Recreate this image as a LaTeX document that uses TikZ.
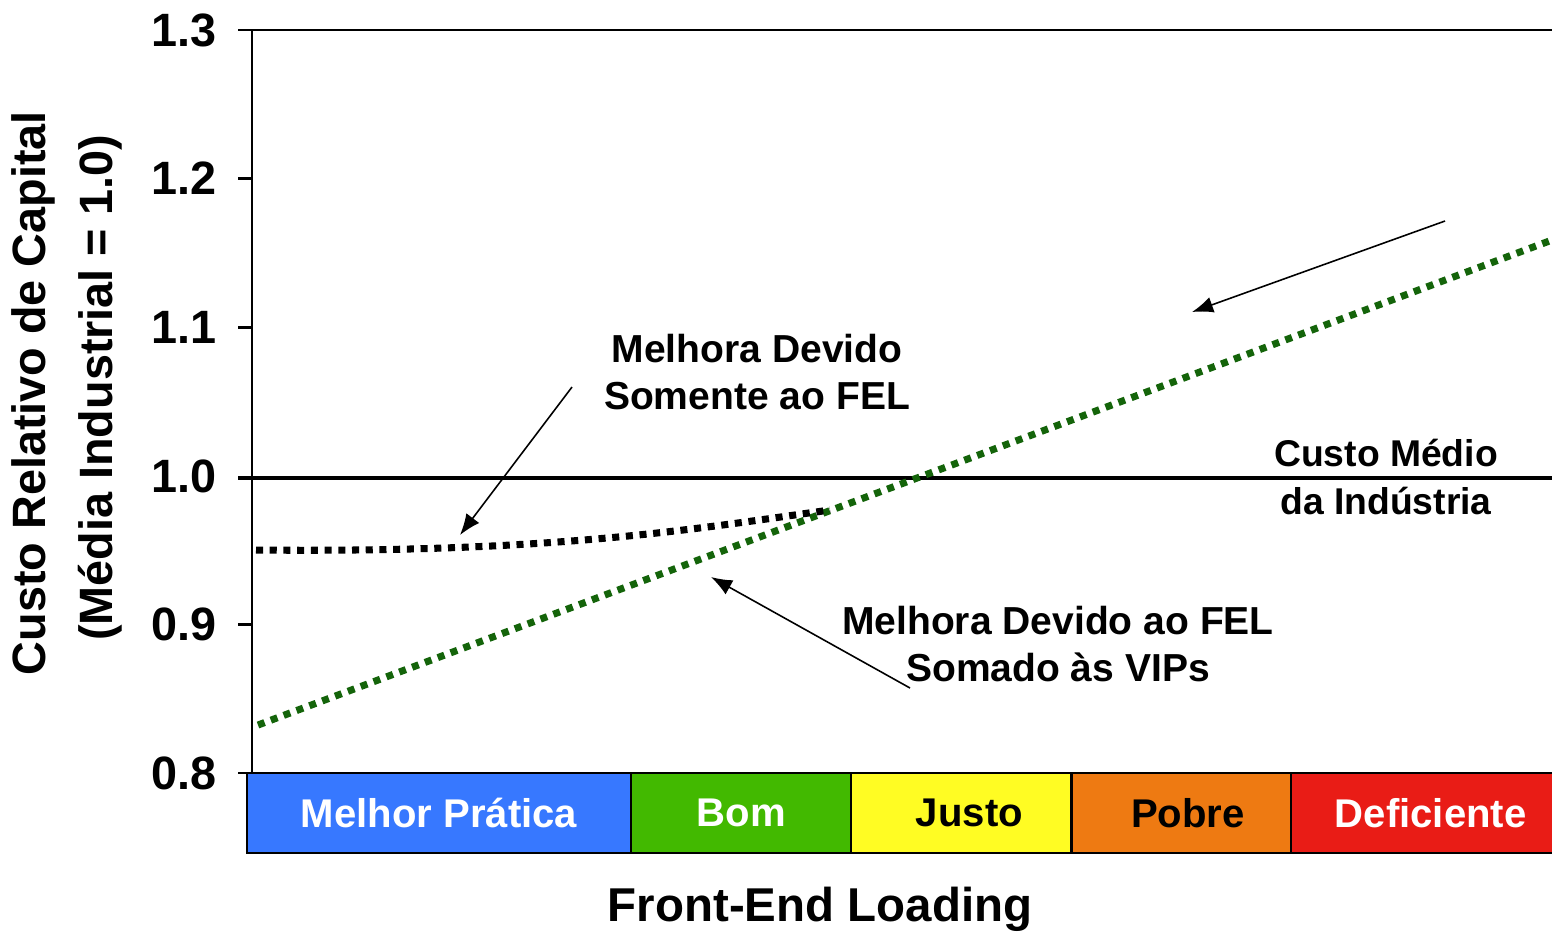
\documentclass[tikz,border=0pt]{standalone}
\usepackage{fontspec}
\setmainfont{Liberation Sans}
\usepackage{tikz}
\usetikzlibrary{positioning}
\usetikzlibrary{arrows.meta}
\definecolor{barblue}{RGB}{55,120,255}
\definecolor{bargreen}{RGB}{66,185,0}
\definecolor{baryellow}{RGB}{255,252,35}
\definecolor{barorange}{RGB}{238,122,18}
\definecolor{barred}{RGB}{233,28,22}
\definecolor{feldots}{RGB}{20,100,10}
\tikzstyle{ticklbl} = [anchor=east, inner sep=0pt, font=\fontsize{13.3}{15}\selectfont\bfseries]
\tikzstyle{axlbl} = [rotate=90, inner sep=0pt, font=\fontsize{13.3}{15}\selectfont\bfseries]
\tikzstyle{note} = [align=center, inner sep=0pt, font=\fontsize{11.1}{13.4}\selectfont\bfseries]
\tikzstyle{band} = [rectangle, draw=black, line width=0.6pt, minimum height=0.8cm, inner sep=0pt, outer sep=0pt, font=\fontsize{11.4}{13}\selectfont\bfseries]
\tikzstyle{arrow} = [-{Latex[length=6pt,width=4.6pt]}, line width=0.45pt]
\tikzstyle{dots} = [line width=2pt, dash pattern=on 2pt off 1.9pt]

\begin{document}
\begin{tikzpicture}[x=0.01cm, y=-0.01cm]
\useasboundingbox (0,0) rectangle (1552,932);

% Axes
\draw [line width=0.8pt] (238,30) -- (1560,30);
\draw [line width=0.8pt] (252,30) -- (252,773);
\draw [line width=0.8pt] (238,178.6) -- (252,178.6);
\draw [line width=0.8pt] (238,327.2) -- (252,327.2);
\draw [line width=0.8pt] (238,624.4) -- (252,624.4);
\draw [line width=0.8pt] (238,773) -- (252,773);
\draw [line width=1.3pt] (238,478) -- (1560,478);

% Tick labels
\node (t13) [ticklbl] at (217,30) {1.3};
\node (t12) [ticklbl] at (217,178.6) {1.2};
\node (t11) [ticklbl] at (217,327.2) {1.1};
\node (t10) [ticklbl] at (217,476) {1.0};
\node (t09) [ticklbl] at (217,624.4) {0.9};
\node (t08) [ticklbl] at (217,773) {0.8};

% Axis labels
\node (ylbl) [axlbl] at (33,393) {Custo Relativo de Capital};
\node (ylbl2) [axlbl] at (100,388) {(Média Industrial = 1.0)};
\node (xlbl) [inner sep=0pt, font=\fontsize{13.5}{15}\selectfont\bfseries] at (820,909) {Front-End Loading};

% Bands
\node (best) [band, fill=barblue, text=white, minimum width=3.84cm, anchor=north west] at (247,773) {Melhor Prática};
\node (bom) [band, fill=bargreen, text=white, minimum width=2.2cm, right=0pt of best] {Bom};
\node (justo) [band, fill=baryellow, minimum width=2.2cm, right=0pt of bom] {\hspace*{0.16cm}Justo};
\node (pobre) [band, fill=barorange, minimum width=2.19cm, right=0pt of justo] {\hspace*{0.14cm}Pobre};
\node (defic) [band, fill=barred, text=white, minimum width=2.8cm, right=0pt of pobre, text width=2.62cm, align=center] {Deficiente};

% Curves
\coordinate (g0) at (258,725);
\coordinate (g1) at (1560,237);
\draw [dots, feldots] (g0) -- (g1);
\coordinate (k0) at (256,550);
\coordinate (k1) at (830,510);
\draw [dots, black] (k0) .. controls (560,553) and (700,528) .. (k1);

% Notes
\node (fel) [note] at (757,372) {Melhora Devido\\Somente ao FEL};
\node (media) [note, font=\fontsize{10.6}{13.4}\selectfont\bfseries] at (1386,477) {Custo Médio\\da Indústria};
\node (vip) [note] at (1058,644) {Melhora Devido ao FEL\\Somado às VIPs};

% Arrows
\coordinate (a1s) at (572,387);
\coordinate (a1e) at (460,535);
\coordinate (a2s) at (910,688);
\coordinate (a2e) at (711,577);
\coordinate (a3s) at (1445,221);
\coordinate (a3e) at (1192,312);
\draw [arrow] (a1s) -- (a1e);
\draw [arrow] (a2s) -- (a2e);
\draw [arrow] (a3s) -- (a3e);

\end{tikzpicture}
\end{document}
